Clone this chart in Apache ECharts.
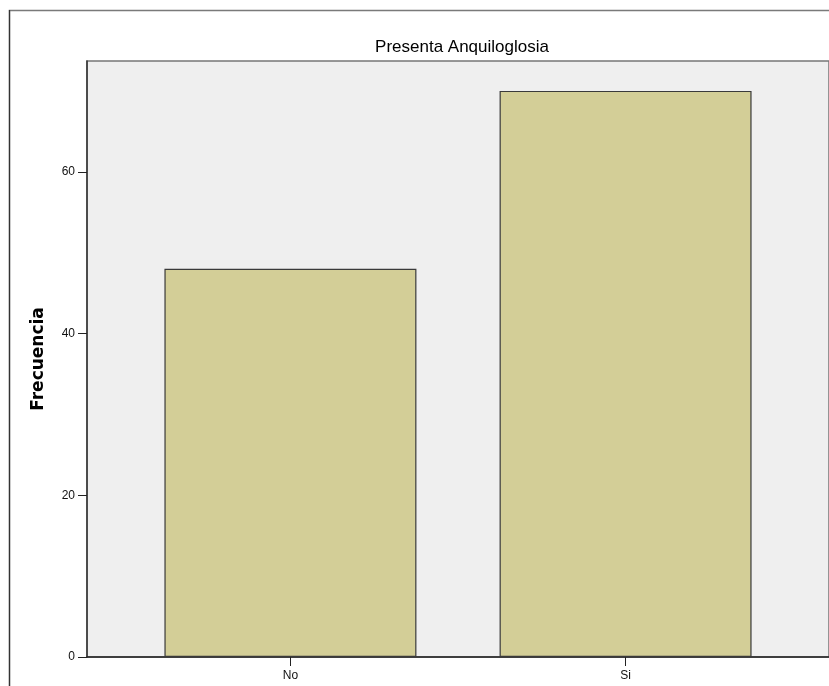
<!DOCTYPE html>
<html>
<head>
<meta charset="utf-8">
<script src="https://cdn.jsdelivr.net/npm/echarts@6/dist/echarts.min.js"></script>
<style>
html,body{margin:0;padding:0;background:#fff;}
#c{width:829px;height:686px;}
</style>
</head>
<body>
<div id="c"></div>
<script>
const chartTitle = 'Presenta Anquiloglosia';
const yTitle = 'Frecuencia';
const categories = ['No', 'Si'];
const values = [48, 70];
const yTicks = [0, 20, 40, 60];
const catPositions = [0, 1];

const chart = echarts.init(document.getElementById('c'), null, {renderer: 'canvas'});
const fontFam = '"Liberation Sans", Arial, sans-serif';
chart.setOption({
  animation: false,
  backgroundColor: '#ffffff',
  title: {
    text: chartTitle,
    left: 457,
    top: 34,
    textAlign: 'center',
    textStyle: {fontFamily: fontFam, fontSize: 17, fontWeight: 'normal', color: '#000'}
  },
  graphic: [
    {type: 'rect', z: 100, silent: true,
     shape: {x: 9.5, y: 10.5, width: 900, height: 800},
     style: {fill: 'none', stroke: '#7a7a7a', lineWidth: 1.5}},
    {type: 'line', z: 101, silent: true,
     shape: {x1: 9.5, y1: 10, x2: 9.5, y2: 700},
     style: {stroke: '#333', lineWidth: 1.2}}
  ],
  grid: {
    left: 87, top: 61, width: 744, height: 596,
    show: true, backgroundColor: '#efefef', borderColor: '#777', borderWidth: 1.5,
    containLabel: false
  },
  xAxis: {
    type: 'value',
    min: -0.607, max: 1.607,
    splitLine: {show: false},
    axisLine: {show: true, onZero: false, lineStyle: {color: '#222', width: 1.5}},
    axisTick: {show: true, customValues: catPositions, length: 9, lineStyle: {color: '#222', width: 1}},
    axisLabel: {
      customValues: catPositions, margin: 13,
      fontFamily: fontFam, fontSize: 12, color: '#111',
      formatter: v => categories[Math.round(v)]
    }
  },
  yAxis: {
    type: 'value',
    min: 0, max: 73.7,
    name: yTitle,
    nameLocation: 'middle',
    nameGap: 40,
    nameTextStyle: {fontFamily: '"DejaVu Sans", sans-serif', fontSize: 17, fontWeight: 'bold', color: '#000'},
    splitLine: {show: false},
    axisLine: {show: true, onZero: false, lineStyle: {color: '#333', width: 1.5}},
    axisTick: {show: true, customValues: yTicks, length: 9, lineStyle: {color: '#222', width: 1}},
    axisLabel: {customValues: yTicks, margin: 12, fontFamily: fontFam, fontSize: 12, color: '#111'}
  },
  series: [{
    type: 'bar',
    data: values.map((v, i) => [catPositions[i], v]),
    barWidth: 252,
    itemStyle: {color: '#d3ce97', borderColor: '#3a3a3a', borderWidth: 1.2}
  }]
});
</script>
</body>
</html>
